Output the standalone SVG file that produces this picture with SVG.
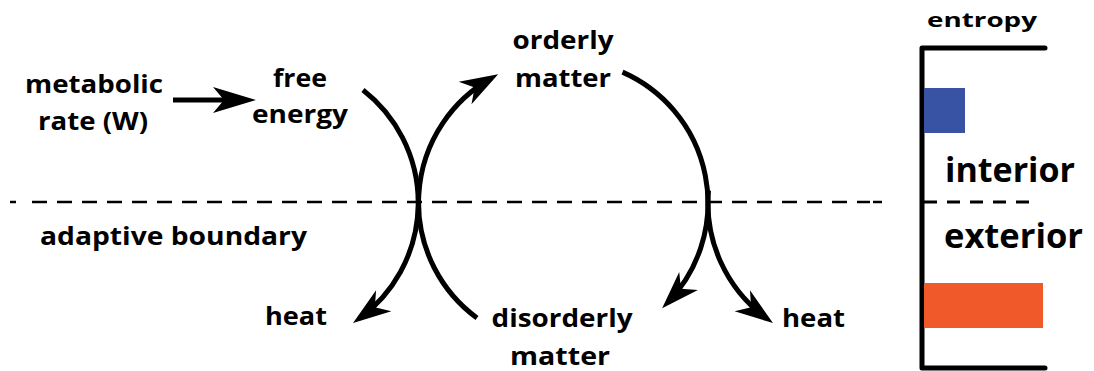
<svg xmlns="http://www.w3.org/2000/svg" width="1094" height="371" viewBox="0 0 1094 371">
<style>
text{font-family:"Open Sans","Liberation Sans",sans-serif;font-weight:700;fill:#000;}
.lbl{font-size:25px;text-anchor:middle;}
.big{font-size:34px;}
.arc{fill:none;stroke:#000;stroke-width:5;}
.dash{fill:none;stroke:#000;stroke-width:2.5;}
</style>
<defs>
<marker id="ah" markerUnits="userSpaceOnUse" markerWidth="60" markerHeight="40" refX="30" refY="20" orient="auto" viewBox="0 0 60 40" overflow="visible">
<path d="M38,20 L0,7 L11,20 L0,33 Z" fill="#000"/>
</marker>
</defs>
<rect width="1094" height="371" fill="#fff"/>

<g id="boundary">
<line class="dash" x1="10" y1="202" x2="16" y2="202" stroke-width="3"/>
<line class="dash" x1="32" y1="202" x2="870" y2="202" stroke-dasharray="15 10"/>
<line class="dash" x1="873" y1="202" x2="882" y2="202" stroke-width="4"/>
<text class="lbl" x="173.5" y="245" textLength="267" lengthAdjust="spacingAndGlyphs">adaptive boundary</text>
</g>

<g id="metabolic-rate">
<text class="lbl" x="94" y="93" textLength="138" lengthAdjust="spacingAndGlyphs">metabolic</text>
<text class="lbl" x="93" y="130" textLength="110" lengthAdjust="spacingAndGlyphs">rate (W)</text>
</g>
<g id="free-energy">
<text class="lbl" x="300" y="87" textLength="54" lengthAdjust="spacingAndGlyphs">free</text>
<text class="lbl" x="300" y="123" textLength="96" lengthAdjust="spacingAndGlyphs">energy</text>
</g>
<g id="orderly-matter">
<text class="lbl" x="563" y="49" textLength="101" lengthAdjust="spacingAndGlyphs">orderly</text>
<text class="lbl" x="563" y="87" textLength="96" lengthAdjust="spacingAndGlyphs">matter</text>
</g>
<g id="heat-left">
<text class="lbl" x="296" y="325" textLength="62" lengthAdjust="spacingAndGlyphs">heat</text>
</g>
<g id="disorderly-matter">
<text class="lbl" x="562" y="327" textLength="141" lengthAdjust="spacingAndGlyphs">disorderly</text>
<text class="lbl" x="560" y="365" textLength="100" lengthAdjust="spacingAndGlyphs">matter</text>
</g>
<g id="heat-right">
<text class="lbl" x="813.5" y="327" textLength="63" lengthAdjust="spacingAndGlyphs">heat</text>
</g>

<g id="connectors">
<line class="arc" x1="173" y1="100" x2="228" y2="100"/>
<path d="M256,100 L213,87 L224,100 L213,113 Z" fill="#000"/>
<path class="arc" d="M363,90 A143,143 0 0,1 359.5,318.4" marker-end="url(#ah)"/>
<path class="arc" d="M477,318 A143,143 0 0,1 491.2,78.2" marker-end="url(#ah)"/>
<path class="arc" d="M622.5,72.1 A143,143 0 0,1 667.7,302.5" marker-end="url(#ah)"/>
<path class="arc" d="M708.5,190.5 A143,143 0 0,0 766.5,318.4" marker-end="url(#ah)"/>
</g>

<g id="entropy-chart">
<text x="982" y="27" font-size="19" text-anchor="middle" textLength="110" lengthAdjust="spacingAndGlyphs">entropy</text>
<path d="M1045,48 H922 V368 H1045" fill="none" stroke="#000" stroke-width="5" stroke-linejoin="round" stroke-linecap="round"/>
<rect x="924" y="88" width="41" height="45" fill="#3953a4"/>
<rect x="924" y="283" width="119" height="45" fill="#f05a2b"/>
<line x1="924" y1="202" x2="1034" y2="202" stroke="#000" stroke-width="3" stroke-dasharray="13 10"/>
<text class="big" x="945" y="182" textLength="130" lengthAdjust="spacingAndGlyphs">interior</text>
<text class="big" x="944" y="248" textLength="139" lengthAdjust="spacingAndGlyphs">exterior</text>
</g>
</svg>
